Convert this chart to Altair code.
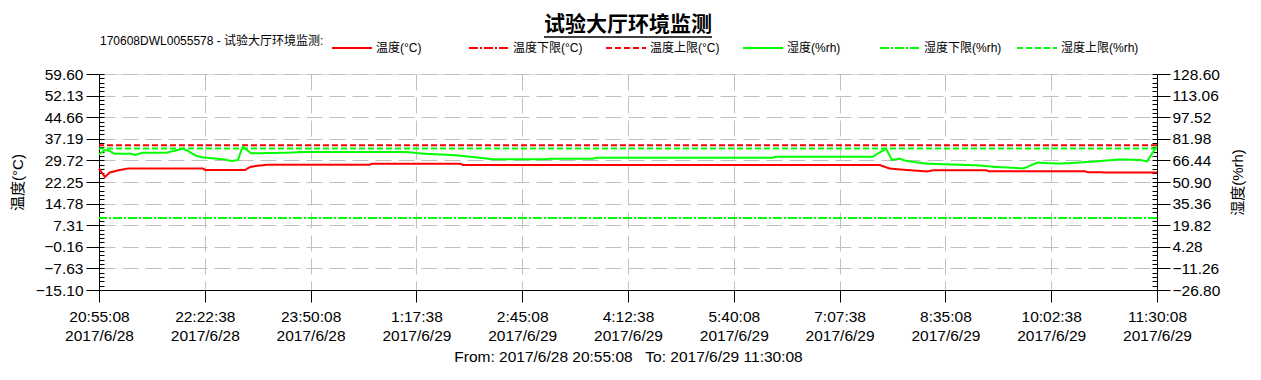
import altair as alt
import pandas as pd
import numpy as np

# ---------------- data ----------------
START = "2017-06-28 20:55:08"
END = "2017-06-29 11:30:08"

TEMP_TIMES = [
    "2017-06-28 20:55:08", "2017-06-28 21:00", "2017-06-28 21:04", "2017-06-28 21:10",
    "2017-06-28 21:15", "2017-06-28 21:19", "2017-06-28 22:21", "2017-06-28 22:23",
    "2017-06-28 22:56", "2017-06-28 23:00", "2017-06-28 23:05", "2017-06-28 23:14",
    "2017-06-29 00:39", "2017-06-29 00:41", "2017-06-29 01:54", "2017-06-29 01:56",
    "2017-06-29 07:41", "2017-06-29 07:49", "2017-06-29 08:03", "2017-06-29 08:20",
    "2017-06-29 08:25", "2017-06-29 09:09", "2017-06-29 09:11", "2017-06-29 10:30",
    "2017-06-29 10:33", "2017-06-29 11:30:08",
]
TEMP_VALUES = [
    26.9, 24.0, 25.5, 26.2,
    26.6, 26.9, 26.9, 26.4,
    26.4, 27.4, 27.8, 28.2,
    28.2, 28.6, 28.6, 28.1,
    28.1, 26.9, 26.4, 25.9,
    26.3, 26.3, 26.0, 26.0,
    25.6, 25.5,
]

HUM_TIMES = [
    "2017-06-28 20:55:08", "2017-06-28 21:00", "2017-06-28 21:04", "2017-06-28 21:08",
    "2017-06-28 21:21", "2017-06-28 21:25", "2017-06-28 21:31", "2017-06-28 21:51",
    "2017-06-28 22:05", "2017-06-28 22:16", "2017-06-28 22:21", "2017-06-28 22:32",
    "2017-06-28 22:38", "2017-06-28 22:45", "2017-06-28 22:50", "2017-06-28 22:54",
    "2017-06-28 23:01", "2017-06-28 23:33", "2017-06-28 23:41", "2017-06-29 01:10",
    "2017-06-29 01:23", "2017-06-29 01:51", "2017-06-29 02:04", "2017-06-29 02:21",
    "2017-06-29 03:05", "2017-06-29 03:08", "2017-06-29 03:44", "2017-06-29 03:46",
    "2017-06-29 06:12", "2017-06-29 06:15", "2017-06-29 07:35", "2017-06-29 07:46",
    "2017-06-29 07:51", "2017-06-29 07:57", "2017-06-29 08:03", "2017-06-29 08:20",
    "2017-06-29 09:01", "2017-06-29 09:18", "2017-06-29 09:40", "2017-06-29 09:51",
    "2017-06-29 10:10", "2017-06-29 10:37", "2017-06-29 11:00", "2017-06-29 11:16",
    "2017-06-29 11:22", "2017-06-29 11:30:08",
]
HUM_VALUES = [
    70.8, 73.9, 73.2, 71.3,
    71.3, 70.3, 72.0, 72.0,
    74.9, 69.6, 68.6, 67.7,
    67.2, 66.0, 66.7, 76.3,
    71.5, 72.0, 72.4, 72.4,
    71.3, 70.1, 68.9, 67.2,
    67.2, 67.7, 67.7, 68.4,
    68.4, 69.1, 69.1, 74.9,
    66.7, 67.7, 66.0, 64.1,
    62.9, 61.7, 60.7, 64.8,
    64.1, 65.5, 67.2, 66.7,
    65.8, 76.8,
]

SERIES = ["温度(°C)", "温度下限(°C)", "温度上限(°C)", "湿度(%rh)", "湿度下限(%rh)", "湿度上限(%rh)"]
SERIES_COLORS = ["#ff0000", "#ff0000", "#ff0000", "#00ff00", "#00ff00", "#00ff00"]
SERIES_DASH = [[1, 0], [9, 2, 2, 2], [6, 3], [1, 0], [9, 2, 2, 2], [6, 3]]

TEMP_LIMITS = [9.8, 35.0]    # 下限, 上限
HUM_LIMITS = [25.0, 75.0]    # 下限, 上限

TEMP_TICKS = [-15.10, -7.63, -0.16, 7.31, 14.78, 22.25, 29.72, 37.19, 44.66, 52.13, 59.60]
HUM_TICKS = [-26.80, -11.26, 4.28, 19.82, 35.36, 50.90, 66.44, 81.98, 97.52, 113.06, 128.60]

TICK_TIMES = ["20:55:08", "22:22:38", "23:50:08", "1:17:38", "2:45:08", "4:12:38",
              "5:40:08", "7:07:38", "8:35:08", "10:02:38", "11:30:08"]
TICK_DATES = ["2017/6/28", "2017/6/28", "2017/6/28", "2017/6/29", "2017/6/29", "2017/6/29",
              "2017/6/29", "2017/6/29", "2017/6/29", "2017/6/29", "2017/6/29"]

LEGEND_TITLE = "170608DWL0055578 - 试验大厅环境监测:"
TITLE = "试验大厅环境监测"
X_TITLE = "From: 2017/6/28 20:55:08\u00a0\u00a0 To: 2017/6/29 11:30:08"

# ---------------- build tables ----------------
t0 = pd.Timestamp(START)


def minutes(ts):
    return (pd.to_datetime(pd.Series(ts), format="mixed") - t0).dt.total_seconds() / 60.0


total = float(minutes([END]).iloc[0])
tick_vals = [float(v) for v in minutes([
    d.replace("/", "-") + " " + t for d, t in zip(TICK_DATES, TICK_TIMES)
])]

temp_df = pd.DataFrame({"minute": minutes(TEMP_TIMES), "value": TEMP_VALUES, "series": SERIES[0]})
hum_df = pd.DataFrame({"minute": minutes(HUM_TIMES), "value": HUM_VALUES, "series": SERIES[3]})
temp_lim_df = pd.DataFrame({"value": TEMP_LIMITS, "series": [SERIES[1], SERIES[2]]})
hum_lim_df = pd.DataFrame({"value": HUM_LIMITS, "series": [SERIES[4], SERIES[5]]})


def minor(ticks, n=5):
    out = []
    for a, b in zip(ticks[:-1], ticks[1:]):
        out.extend(np.linspace(a, b, n + 1)[:-1].tolist())
    out.append(ticks[-1])
    return out


FONT = "Liberation Sans, Noto Sans CJK SC"
LBL = 15.5

label_expr = "[" + ",".join(f"['{t}','{d}']" for t, d in zip(TICK_TIMES, TICK_DATES)) + \
    f"][round(datum.value / {total / 10})]"

x_enc = alt.X(
    "minute:Q",
    scale=alt.Scale(domain=[0, total], nice=False, zero=False),
    axis=alt.Axis(
        values=tick_vals, labelExpr=label_expr, title=X_TITLE,
        tickSize=12, tickColor="black", domainColor="black", labelColor="black",
        labelFont=FONT, labelFontSize=LBL, labelLineHeight=19, labelPadding=7,
        titleFont=FONT, titleFontSize=LBL, titleFontWeight="normal", titleColor="black",
        titlePadding=6, grid=True, gridColor="#c0c0c0", gridDash=[16, 7], labelFlush=False,
        labelOverlap=False,
    ),
)

color_enc = alt.Color("series:N", scale=alt.Scale(domain=SERIES, range=SERIES_COLORS),
                      legend=alt.Legend(
                          orient="none", legendX=1, legendY=-47, direction="horizontal",
                          columns=6, title=LEGEND_TITLE, titleOrient="left", titleLimit=400,
                          titleFont=FONT, titleFontSize=12, titleFontWeight="normal",
                          titleColor="black", titlePadding=7, labelFont=FONT, labelFontSize=12,
                          labelColor="black", symbolType="stroke", symbolSize=1600,
                          symbolStrokeWidth=2, columnPadding=11, gridAlign="all",
                          labelLimit=300, labelOffset=3,
                      ))
dash_enc = alt.StrokeDash("series:N", scale=alt.Scale(domain=SERIES, range=SERIES_DASH), legend=None)

temp_scale = alt.Scale(domain=[TEMP_TICKS[0], TEMP_TICKS[-1]], nice=False, zero=False)
hum_scale = alt.Scale(domain=[HUM_TICKS[0], HUM_TICKS[-1]], nice=False, zero=False)

temp_line = alt.Chart(temp_df).mark_line(strokeWidth=2).encode(
    x=x_enc,
    y=alt.Y("value:Q", scale=temp_scale, axis=alt.Axis(
        orient="left", values=TEMP_TICKS, format=".2f", tickSize=13, tickColor="black",
        domainColor="black", labelColor="black", labelFont=FONT, labelFontSize=LBL,
        labelPadding=3, grid=True, gridColor="#c0c0c0", gridDash=[16, 7],
        title="温度(°C)", titleFont=FONT, titleFontSize=15, titleFontWeight="normal",
        titleColor="black", titlePadding=10, labelFlush=False, labelOverlap=False)),
    color=color_enc,
    strokeDash=dash_enc,
)

temp_rules = alt.Chart(temp_lim_df).mark_rule(strokeWidth=2).encode(
    y=alt.Y("value:Q", scale=temp_scale, axis=alt.Axis(
        orient="left", offset=-5, values=minor(TEMP_TICKS), tickSize=5, tickColor="black",
        labels=False, domain=False, grid=False, title=None)),
    color=color_enc,
    strokeDash=dash_enc,
)

hum_rules = alt.Chart(hum_lim_df).mark_rule(strokeWidth=2).encode(
    y=alt.Y("value:Q", scale=hum_scale, axis=alt.Axis(
        orient="right", offset=-5, values=minor(HUM_TICKS), tickSize=5, tickColor="black",
        labels=False, domain=False, grid=False, title=None)),
    color=color_enc,
    strokeDash=dash_enc,
)

hum_line = alt.Chart(hum_df).mark_line(strokeWidth=2).encode(
    x=x_enc,
    y=alt.Y("value:Q", scale=hum_scale, axis=alt.Axis(
        orient="right", values=HUM_TICKS, format=".2f", tickSize=13, tickColor="black",
        domainColor="black", labelColor="black", labelFont=FONT, labelFontSize=LBL,
        labelPadding=2, grid=False, title="湿度(%rh)", titleAngle=270, titleFont=FONT,
        titleFontSize=15, titleFontWeight="normal", titleColor="black", titlePadding=26,
        labelFlush=False, labelOverlap=False)),
    color=color_enc,
    strokeDash=dash_enc,
)

underline = alt.Chart(alt.Data(values=[{}])).mark_rule(color="black", strokeWidth=1.5).encode(
    x=alt.value(445), x2=alt.value(613), y=alt.value(-37)
)

chart = alt.layer(temp_line, temp_rules, hum_rules, hum_line, underline).resolve_scale(
    y="independent"
).properties(
    width=1058, height=216,
    autosize=alt.AutoSizeParams(type="none"),
    padding={"left": 91, "top": 66, "right": 96, "bottom": 82},
    title=alt.TitleParams(TITLE, font="Noto Sans CJK SC", fontSize=21, fontWeight="bold",
                          color="black", anchor="middle", offset=4, dy=12),
).configure_view(stroke=None).configure(background="white")

chart.save("out.html", embed_options={"renderer": "svg", "actions": False})
